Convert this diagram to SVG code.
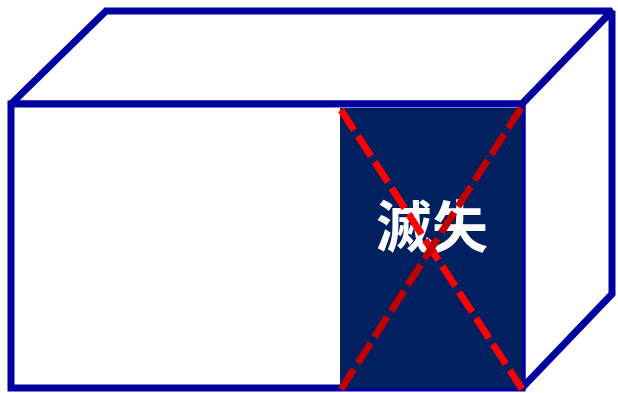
<svg xmlns="http://www.w3.org/2000/svg" width="618" height="393" viewBox="0 0 618 393">
<style>
.edge{fill:#fff;stroke:#0000A0;stroke-width:7;stroke-linejoin:miter;stroke-miterlimit:2}
.x{stroke-width:7;stroke-dasharray:24 7;fill:none}
</style>
<rect width="618" height="393" fill="#fff"/>
<g id="top"><polygon class="edge" points="11,104 106,11 612,11 522,104"/></g>
<g id="side"><polygon class="edge" points="522,104 612,11 612,294 522,388"/></g>
<g id="front"><rect class="edge" x="11" y="104" width="511" height="284"/></g>
<g id="lost">
<rect x="340" y="108" width="182" height="280" fill="#002060"/>
<text x="432" y="247" font-family="Noto Sans CJK JP, sans-serif" font-weight="bold" font-size="56" fill="#fff" text-anchor="middle">滅失</text>
</g>
<g id="connectors">
<line class="x" x1="341" y1="110" x2="522" y2="389" stroke="#FF0000"/>
<line class="x" x1="521" y1="108" x2="340" y2="391" stroke="#C00000"/>
</g>
</svg>
